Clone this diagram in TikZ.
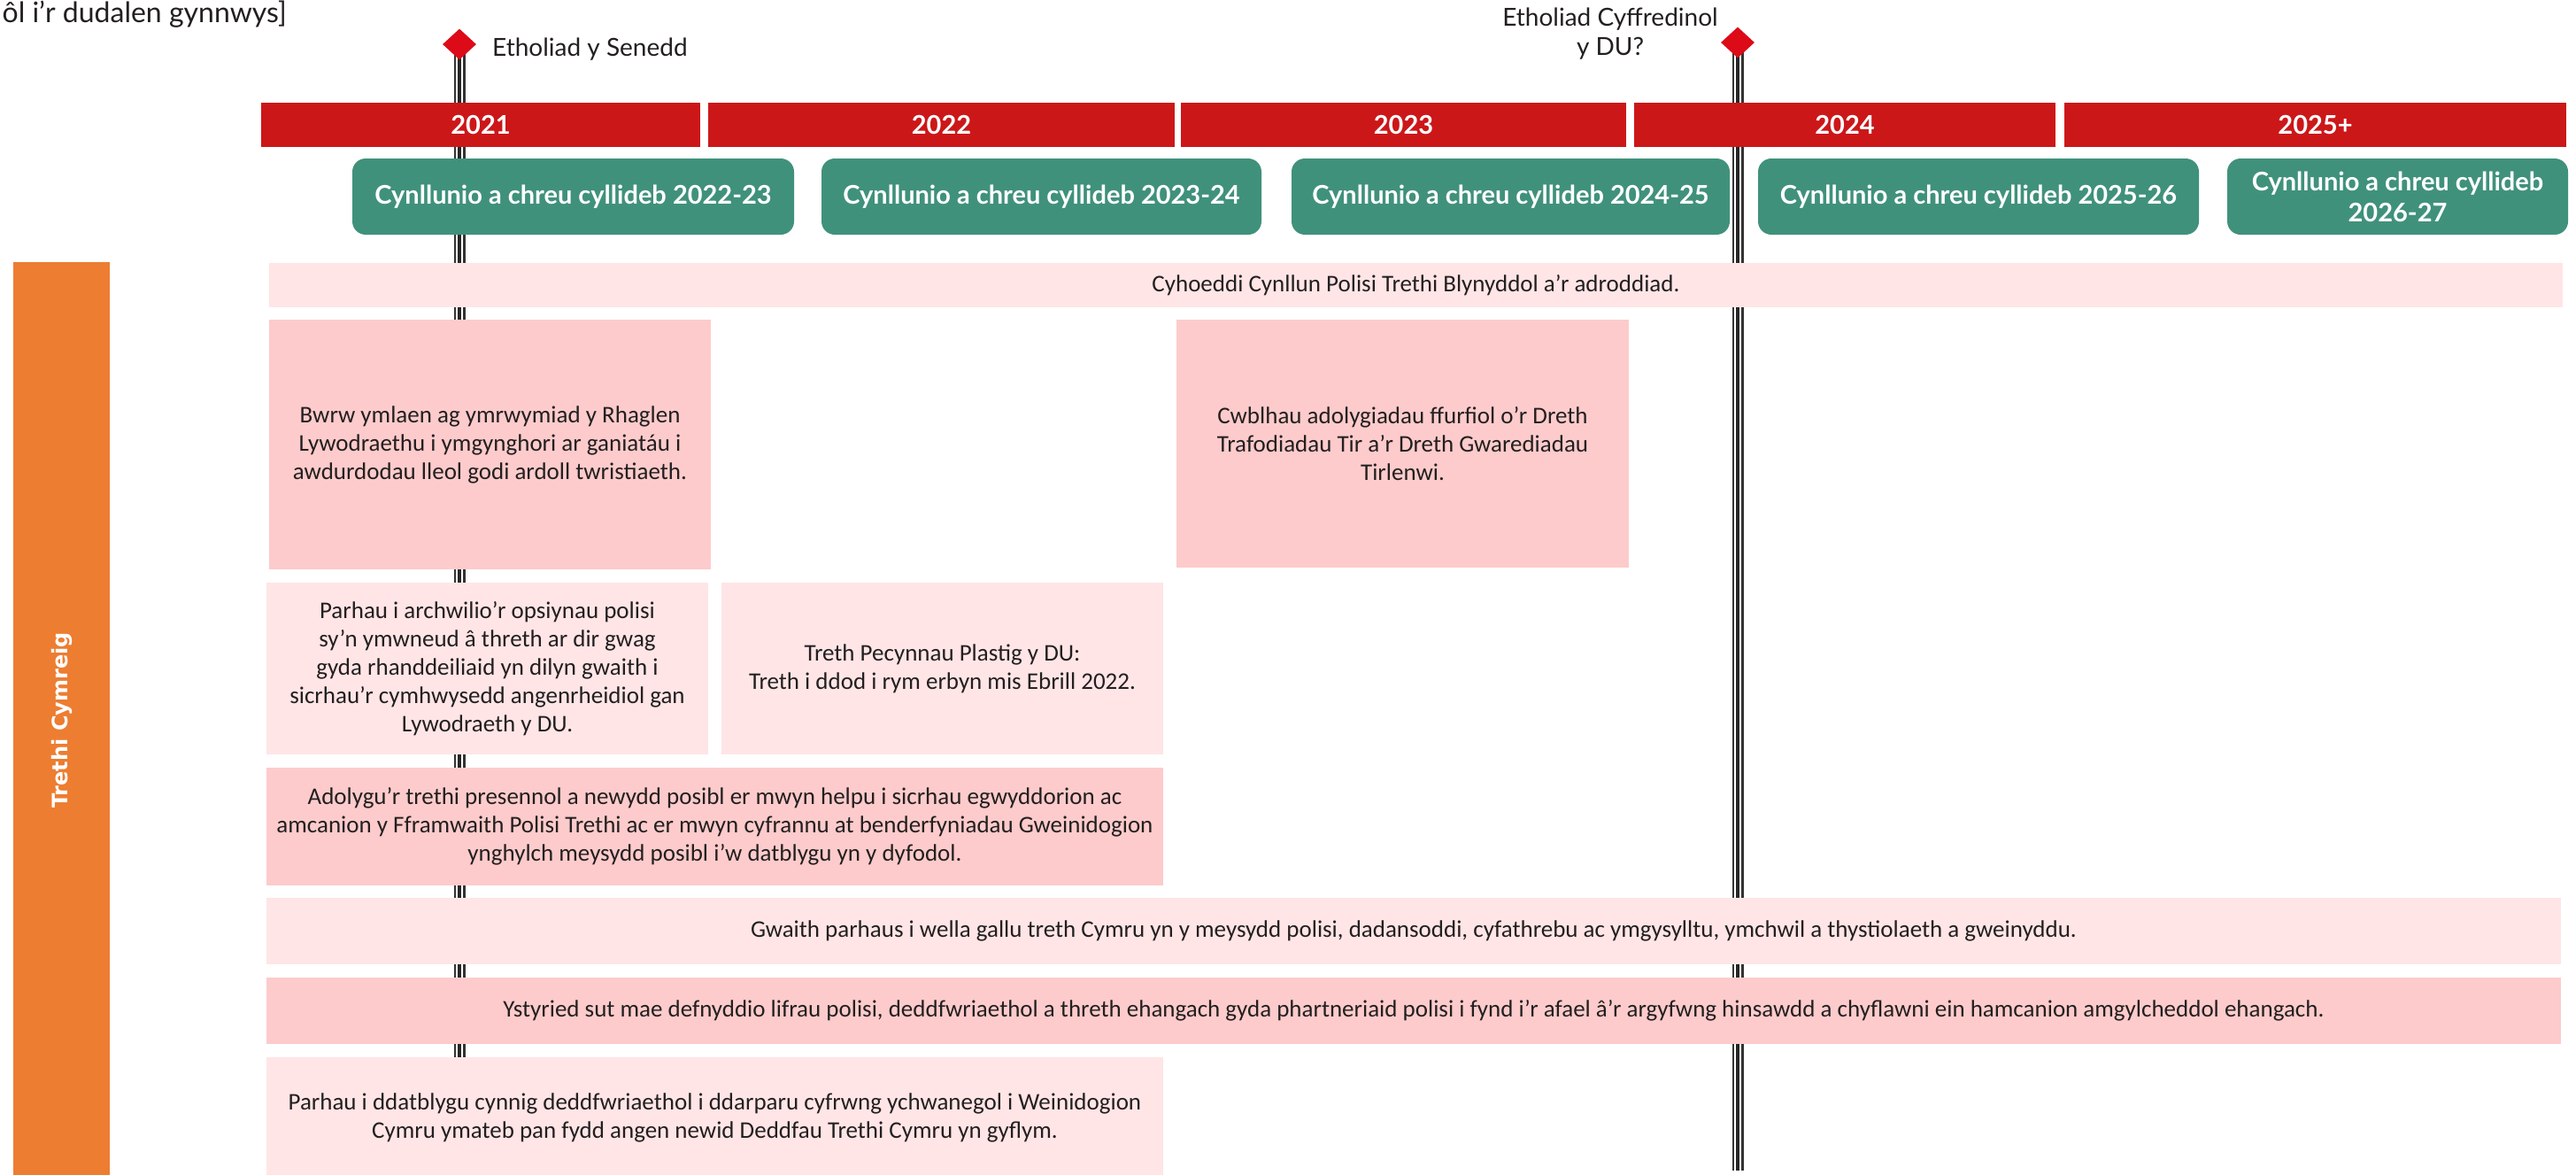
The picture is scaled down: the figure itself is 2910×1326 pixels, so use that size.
\documentclass[tikz,border=0pt]{standalone}
\usepackage{fontspec}
\setmainfont{Carlito}
\newfontfamily\labelfont{Lato}
\newfontfamily\sidefont{DejaVu Sans}
\usetikzlibrary{shapes.geometric}

\definecolor{yearred}{HTML}{CC1719}
\definecolor{electred}{HTML}{DD0A18}
\definecolor{budgetgreen}{HTML}{40917B}
\definecolor{palepink}{HTML}{FFE5E6}
\definecolor{deeppink}{HTML}{FDCBCB}
\definecolor{sideorange}{HTML}{ED7D31}
\definecolor{inkgrey}{HTML}{231F20}

\pgfdeclarelayer{background}
\pgfsetlayers{background,main}

\tikzset{
  year/.style={fill=yearred, text=white, minimum height=50pt, inner sep=0pt,
    font=\labelfont\bfseries\fontsize{29}{34}\selectfont},
  budget/.style={fill=budgetgreen, text=white, rounded corners=15pt, minimum height=86pt,
    inner sep=0pt, align=center, font=\labelfont\bfseries\fontsize{29}{35}\selectfont},
  task/.style={inner sep=0pt, align=center, text=inkgrey, font=\fontsize{27}{32}\selectfont},
  pale/.style={task, fill=palepink},
  deep/.style={task, fill=deeppink},
  elect/.style={diamond, aspect=1, fill=electred, minimum width=38pt, minimum height=35pt, inner sep=0pt},
  eventlabel/.style={text=inkgrey, inner sep=0pt, align=center, font=\labelfont\fontsize{28}{33}\selectfont},
  track/.style={line width=13pt, black!80,
    postaction={draw, line width=8.5pt, white},
    postaction={draw, line width=3.5pt, black!85}},
}

\begin{document}
\begin{tikzpicture}[x=1pt,y=-1pt]
  \useasboundingbox (0,0) rectangle (2910,1326);

  % election markers and the lines below them
  \node[elect] (senedd) at (519,50) {};
  \node[elect] (general) at (1963,48) {};
  \coordinate (sfoot) at (519,1326);
  \coordinate (gfoot) at (1963,1322);
  \begin{pgfonlayer}{background}
    \draw[track] (senedd.center) -- (sfoot);
    \draw[track] (general.center) -- (gfoot);
  \end{pgfonlayer}
  \node[eventlabel, anchor=base west] (sendlabel) at (556,63) {Etholiad y Senedd};
  \node[eventlabel] (genlabel) at (1819,38) {Etholiad Cyffredinol\\y DU?};
  \node[eventlabel, anchor=base east, font=\labelfont\fontsize{32}{36}\selectfont] (backlink) at (324,25)
    {ôl i’r dudalen gynnwys]};

  % years
  \node[year, minimum width=496pt] (y2021) at (543,141) {2021};
  \node[year, minimum width=527pt] (y2022) at (1063.5,141) {2022};
  \node[year, minimum width=503pt] (y2023) at (1585.5,141) {2023};
  \node[year, minimum width=476pt] (y2024) at (2084,141) {2024};
  \node[year, minimum width=567pt] (y2025) at (2615.5,141) {2025+};

  % budget rounds
  \node[budget, minimum width=499pt] (b1) at (647.5,222) {Cynllunio a chreu cyllideb 2022-23};
  \node[budget, minimum width=497pt] (b2) at (1176.5,222) {Cynllunio a chreu cyllideb 2023-24};
  \node[budget, minimum width=495pt] (b3) at (1706.5,222) {Cynllunio a chreu cyllideb 2024-25};
  \node[budget, minimum width=498pt] (b4) at (2235,222) {Cynllunio a chreu cyllideb 2025-26};
  \node[budget, minimum width=385pt] (b5) at (2708.5,222) {Cynllunio a chreu cyllideb\\2026-27};

  % side heading
  \node[fill=sideorange, text=white, rotate=90, inner sep=0pt, minimum width=1035pt, minimum height=109pt,
    font=\sidefont\bfseries\fontsize{24}{28}\selectfont] (side) at (69.5,813.5) {Trethi Cymreig};

  % tasks
  \node[pale, minimum width=2591pt, minimum height=50pt] (report) at (1599.5,322)
    {Cyhoeddi Cynllun Polisi Trethi Blynyddol a’r adroddiad.};
  \node[deep, minimum width=499pt, minimum height=282pt] (levy) at (553.5,502)
    {Bwrw ymlaen ag ymrwymiad y Rhaglen\\Lywodraethu i ymgynghori ar ganiatáu i\\awdurdodau lleol godi ardoll twristiaeth.};
  \node[deep, minimum width=511pt, minimum height=280pt] (review) at (1584.5,501)
    {Cwblhau adolygiadau ffurfiol o’r Dreth\\Trafodiadau Tir a’r Dreth Gwarediadau\\Tirlenwi.};
  \node[pale, minimum width=499pt, minimum height=194pt] (vacant) at (550.5,755)
    {Parhau i archwilio’r opsiynau polisi\\sy’n ymwneud â threth ar dir gwag\\gyda rhanddeiliaid yn dilyn gwaith i\\sicrhau’r cymhwysedd angenrheidiol gan\\Lywodraeth y DU.};
  \node[pale, minimum width=499pt, minimum height=194pt] (plastic) at (1064.5,755)
    {Treth Pecynnau Plastig y DU:\\Treth i ddod i rym erbyn mis Ebrill 2022.};
  \node[deep, minimum width=1013pt, minimum height=133pt] (newtax) at (807.5,933.5)
    {Adolygu’r trethi presennol a newydd posibl er mwyn helpu i sicrhau egwyddorion ac\\amcanion y Fframwaith Polisi Trethi ac er mwyn cyfrannu at benderfyniadau Gweinidogion\\ynghylch meysydd posibl i’w datblygu yn y dyfodol.};
  \node[pale, minimum width=2592pt, minimum height=75pt] (capacity) at (1597,1051.5)
    {Gwaith parhaus i wella gallu treth Cymru yn y meysydd polisi, dadansoddi, cyfathrebu ac ymgysylltu, ymchwil a thystiolaeth a gweinyddu.};
  \node[deep, minimum width=2592pt, minimum height=75pt] (climate) at (1597,1141.5)
    {Ystyried sut mae defnyddio lifrau polisi, deddfwriaethol a threth ehangach gyda phartneriaid polisi i fynd i’r afael â’r argyfwng hinsawdd a chyflawni ein hamcanion amgylcheddol ehangach.};
  \node[pale, minimum width=1013pt, minimum height=136pt] (powers) at (807.5,1262)
    {Parhau i ddatblygu cynnig deddfwriaethol i ddarparu cyfrwng ychwanegol i Weinidogion\\Cymru ymateb pan fydd angen newid Deddfau Trethi Cymru yn gyflym.};
\end{tikzpicture}
\end{document}
